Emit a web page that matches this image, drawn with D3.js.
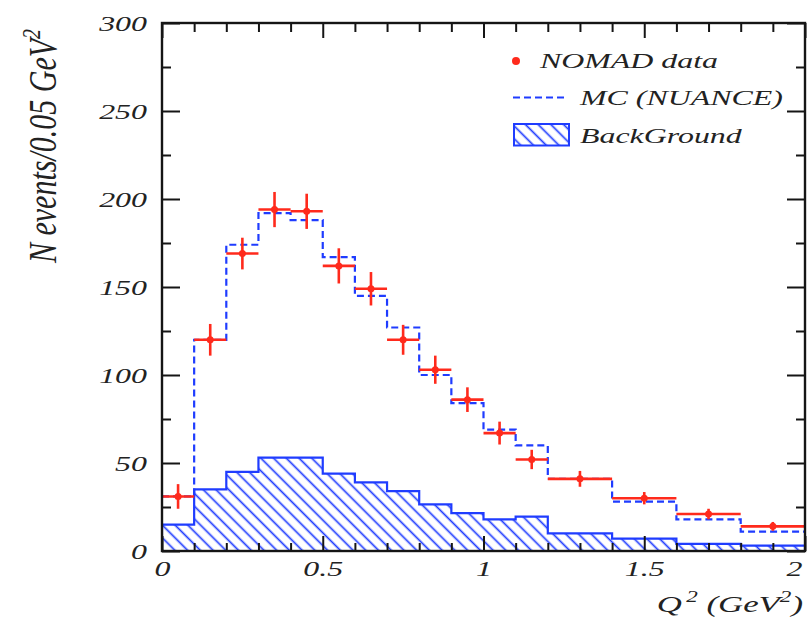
<!DOCTYPE html>
<html><head><meta charset="utf-8">
<script src="https://cdn.jsdelivr.net/npm/d3@7"></script>
<style>body{margin:0;background:#fff}svg{display:block}</style>
</head><body><svg id="c" width="807" height="624"></svg>
<script>
// ---- data ----
const binEdges   = [0,0.1,0.2,0.3,0.4,0.5,0.6,0.7,0.8,0.9,1.0,1.1,1.2,1.4,1.6,1.8,2.0];
const dataValues = [31,120,169,194,193,162,149,120,103,86,67,52,41,30,21,14];
const dataErrors = [7,9,9,10,10,10,9.5,8.5,8,7,6.5,5.5,4.5,3.5,3,2.5];
const mcValues   = [31,120,174,192,188,167,145,127,100,84,69,60,41,28,18,11];
const bgValues   = [15,35,45,53,53,44,39,34,26.5,21.5,18,19.5,10,7,4,3];
const xMajorTicks = [0,0.5,1,1.5,2];
const xTickLabels = ["0","0.5","1","1.5","2"];
const xMinorTicks = [0.1,0.2,0.3,0.4,0.6,0.7,0.8,0.9,1.1,1.2,1.3,1.4,1.6,1.7,1.8,1.9];
const yMajorTicks = [0,50,100,150,200,250,300];
const yMinorTicks = [25,75,125,175,225,275];
const legendLabels = ["NOMAD data","MC (NUANCE)","BackGround"];

// ---- styles ----
const RED="#ff2a1c", BLUE="#1f3cff", INK="#151515";
const FONT="'Liberation Serif','Times New Roman',serif";
const SX=1.45;

const L=162,R=805,T=23,B=551;
const x=d3.scaleLinear().domain([0,2]).range([L,R]);
const y=d3.scaleLinear().domain([0,300]).range([B,T]);
const svg=d3.select('#c');
const defs=svg.append('defs');
const pat=defs.append('pattern').attr('id','hatch').attr('patternUnits','userSpaceOnUse')
  .attr('width',9).attr('height',9).attr('patternTransform','rotate(-45)');
pat.append('line').attr('x1',4.5).attr('y1',-1).attr('x2',4.5).attr('y2',10)
  .attr('stroke',BLUE).attr('stroke-width',1.7);
defs.append('clipPath').attr('id','plot').append('rect')
  .attr('x',L).attr('y',T).attr('width',R-L).attr('height',B-T);

const bins=dataValues.map((v,i)=>({lo:binEdges[i],hi:binEdges[i+1],v,e:dataErrors[i],mc:mcValues[i],bg:bgValues[i]}));

const plot=svg.append('g').attr('clip-path','url(#plot)');

// background hatched histogram
const bgPts=[[0,0]];
bins.forEach(b=>{bgPts.push([b.lo,b.bg]);bgPts.push([b.hi,b.bg]);});
bgPts.push([2,0]);
const line=d3.line().x(d=>x(d[0])).y(d=>y(d[1]));
plot.append('path').attr('d',line(bgPts)+'Z').attr('fill','url(#hatch)')
  .attr('stroke',BLUE).attr('stroke-width',2.2).attr('stroke-linejoin','miter');

// MC dashed histogram
const mcPts=[];
bins.forEach(b=>{mcPts.push([b.lo,b.mc]);mcPts.push([b.hi,b.mc]);});
plot.append('path').attr('d',line(mcPts)).attr('fill','none')
  .attr('stroke',BLUE).attr('stroke-width',2.2).attr('stroke-dasharray','7,4');

// data points
const dg=plot.append('g').selectAll('g').data(bins).join('g');
dg.append('line').attr('x1',d=>x(d.lo)).attr('x2',d=>x(d.hi)).attr('y1',d=>y(d.v)).attr('y2',d=>y(d.v))
  .attr('stroke',RED).attr('stroke-width',2.6);
dg.append('line').attr('x1',d=>x((d.lo+d.hi)/2)).attr('x2',d=>x((d.lo+d.hi)/2))
  .attr('y1',d=>y(d.v-d.e)).attr('y2',d=>y(d.v+d.e)).attr('stroke',RED).attr('stroke-width',2.6);
dg.append('circle').attr('cx',d=>x((d.lo+d.hi)/2)).attr('cy',d=>y(d.v)).attr('r',3.5).attr('fill',RED);

// axes
function styleAxis(g){
  g.select('.domain').remove();
  g.attr('color',INK).attr('font-family',FONT).attr('font-size',22).attr('font-style','italic');
  g.selectAll('line').attr('stroke-width',2);
  g.selectAll('text').attr('fill','#222').each(function(){
    const t=d3.select(this); const xx=+t.attr('x')||0, yy=+t.attr('y')||0;
    t.attr('x',0).attr('y',0).attr('transform',`translate(${xx},${yy}) scale(${SX},1)`);
  });
}
svg.append('g').attr('transform',`translate(${L},0)`)
  .call(d3.axisLeft(y).tickValues(yMajorTicks).tickSize(-18).tickPadding(15).tickFormat(d=>String(d))).call(styleAxis);
svg.append('g').attr('transform',`translate(${L},0)`)
  .call(d3.axisLeft(y).tickValues(yMinorTicks).tickSize(-9).tickFormat('')).call(styleAxis);
svg.append('g').attr('transform',`translate(${R},0)`)
  .call(d3.axisRight(y).tickValues(yMajorTicks).tickSize(-18).tickFormat('')).call(styleAxis);
svg.append('g').attr('transform',`translate(${R},0)`)
  .call(d3.axisRight(y).tickValues(yMinorTicks).tickSize(-9).tickFormat('')).call(styleAxis);
const xb=svg.append('g').attr('transform',`translate(0,${B})`)
  .call(d3.axisBottom(x).tickValues(xMajorTicks).tickSize(-15).tickPadding(9.5).tickFormat((d,i)=>xTickLabels[i])).call(styleAxis);
// keep the last label ("2") inside the page
xb.selectAll('text').filter(d=>d===2).attr('text-anchor','end').attr('x',-3/SX);
svg.append('g').attr('transform',`translate(0,${B})`)
  .call(d3.axisBottom(x).tickValues(xMinorTicks).tickSize(-8).tickFormat('')).call(styleAxis);
svg.append('g').attr('transform',`translate(0,${T})`)
  .call(d3.axisTop(x).tickValues(xMajorTicks).tickSize(-15).tickFormat('')).call(styleAxis);
svg.append('g').attr('transform',`translate(0,${T})`)
  .call(d3.axisTop(x).tickValues(xMinorTicks).tickSize(-9).tickFormat('')).call(styleAxis);

// frame
svg.append('rect').attr('x',L).attr('y',T).attr('width',R-L).attr('height',B-T)
  .attr('fill','none').attr('stroke',INK).attr('stroke-width',2.4);

// axis titles
const yt=svg.append('text').attr('transform','translate(56,146) rotate(-90) scale(1,1.3)')
  .attr('text-anchor','middle').attr('font-family',FONT).attr('font-style','italic').attr('font-size',30).attr('fill','#222');
yt.append('tspan').text('N events/0.05 GeV');
yt.append('tspan').attr('dy',-12).attr('font-size',20).text('2');

const xt=svg.append('text').attr('transform',`translate(803,612) scale(${SX},1)`)
  .attr('text-anchor','end').attr('font-family',FONT).attr('font-style','italic').attr('font-size',24).attr('fill','#222');
xt.append('tspan').text('Q');
xt.append('tspan').attr('dy',-10).attr('dx',3).attr('font-size',16).text('2');
xt.append('tspan').attr('dy',10).text(' (GeV');
xt.append('tspan').attr('dy',-10).attr('font-size',16).text('2');
xt.append('tspan').attr('dy',10).text(')');

// legend
const lg=svg.append('g');
lg.append('circle').attr('cx',516).attr('cy',61).attr('r',4).attr('fill',RED);
lg.append('line').attr('x1',513).attr('x2',566).attr('y1',97.5).attr('y2',97.5)
  .attr('stroke',BLUE).attr('stroke-width',2).attr('stroke-dasharray','7,4');
lg.append('rect').attr('x',514).attr('y',124).attr('width',55).attr('height',21.5)
  .attr('fill','url(#hatch)').attr('stroke',BLUE).attr('stroke-width',2);
const lpos=[[540,68],[580,105],[580,143]];
legendLabels.forEach((t,i)=>{
  lg.append('text').attr('transform',`translate(${lpos[i][0]},${lpos[i][1]}) scale(${SX},1)`)
    .attr('font-family',FONT).attr('font-style','italic').attr('font-size',22).attr('fill','#222').text(t);
});
</script></body></html>
